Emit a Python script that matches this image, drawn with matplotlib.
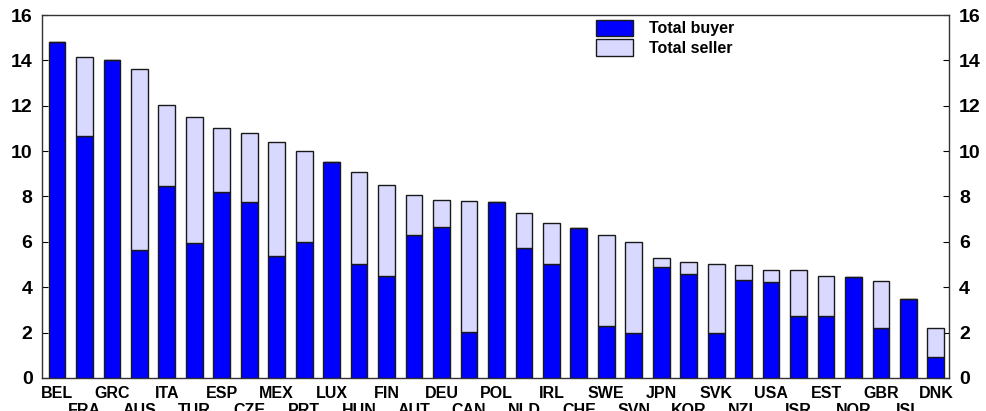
import numpy as np
import matplotlib
matplotlib.use("Agg")
import matplotlib.pyplot as plt

countries = ["BEL", "FRA", "GRC", "AUS", "ITA", "TUR", "ESP", "CZE", "MEX", "PRT", "LUX",
             "HUN", "FIN", "AUT", "DEU", "CAN", "POL", "NLD", "IRL", "CHE", "SWE", "SVN",
             "JPN", "KOR", "SVK", "NZL", "USA", "ISR", "EST", "NOR", "GBR", "ISL", "DNK"]
total = [14.8, 14.15, 14.0, 13.6, 12.03, 11.49, 11.0, 10.78, 10.41, 10.0, 9.5,
         9.09, 8.5, 8.08, 7.85, 7.79, 7.76, 7.26, 6.81, 6.6, 6.31, 6.0,
         5.28, 5.13, 5.01, 4.96, 4.76, 4.76, 4.5, 4.46, 4.26, 3.49, 2.22]
buyer = [14.8, 10.65, 14.0, 5.66, 8.48, 5.97, 8.22, 7.74, 5.38, 5.98, 9.5,
         5.04, 4.48, 6.3, 6.67, 2.02, 7.76, 5.73, 5.04, 6.6, 2.28, 1.98,
         4.88, 4.6, 1.98, 4.33, 4.22, 2.72, 2.72, 4.46, 2.2, 3.49, 0.92]
seller = [t - b for t, b in zip(total, buyer)]

plt.rcParams['font.family'] = ['Liberation Sans', 'DejaVu Sans']
plt.rcParams['font.weight'] = 'bold'

fig = plt.figure(figsize=(9.86, 4.11), dpi=100)
ax = fig.add_axes([0.0429, 0.0803, 0.9199, 0.8832])

x = np.arange(len(countries))
w = 0.61
ax.bar(x, buyer, w, color="#0000ff", edgecolor="#1a1a1a", linewidth=1.0, label="Total buyer", zorder=3)
ax.bar(x, seller, w, bottom=buyer, color="#d9d9ff", edgecolor="#1a1a1a", linewidth=1.0,
       label="Total seller", zorder=3)

ax.set_xlim(-0.535, 32.49)
ax.set_ylim(0, 16)
ax.set_yticks(np.arange(0, 17, 2))

# alternate the country labels on two rows
ax.set_xticks(x[::2])
ax.set_xticklabels(countries[::2], fontsize=11.5, fontweight="bold")
ax.set_xticks(x[1::2], minor=True)
ax.set_xticklabels(countries[1::2], minor=True, fontsize=11.5, fontweight="bold")
ax.tick_params(axis="x", which="major", direction="in", length=3, pad=6)
ax.tick_params(axis="x", which="minor", direction="in", length=3, pad=18)
ax.tick_params(axis="y", direction="in", length=4, labelsize=14, left=True, right=True,
               labelleft=True, labelright=True, pad=7)
for lab in ax.get_yticklabels():
    lab.set_fontweight("bold")

for s in ax.spines.values():
    s.set_color("#333333")
    s.set_linewidth(1.0)

ax.legend(loc="upper left", bbox_to_anchor=(0.595, 1.027), frameon=False,
          handlelength=2.3, handleheight=1.2, handletextpad=1.0, labelspacing=0.2,
          prop={"weight": "bold", "size": 11.5})

fig.savefig("out.png", dpi=100)
